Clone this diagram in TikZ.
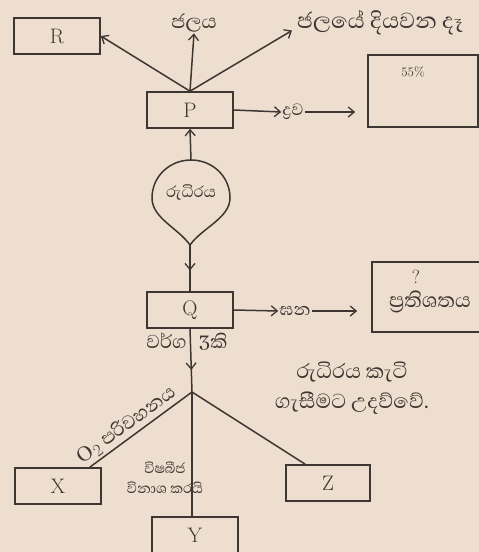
\documentclass[tikz,border=0pt]{standalone}
\usepackage{fontspec}
\newfontfamily\sinhalafont[Script=Sinhala]{Abhaya Libre}
\usetikzlibrary{arrows.meta,decorations.markings}
\definecolor{paper}{RGB}{237,222,207}
\definecolor{ink}{RGB}{62,54,50}
\newcommand{\fsz}[1]{\fontsize{#1}{#1}\selectfont}
\tikzset{
  box/.style={draw=ink,line width=1.6pt,minimum width=86pt,minimum height=36pt,inner sep=0pt,font=\fontsize{21}{24}\selectfont,text=ink},
  lbl/.style={font=\sinhalafont\fsz{17},text=ink,inner sep=1pt},
  conn/.style={draw=ink,line width=1.5pt},
  arr/.style={conn,-{Straight Barb[length=6pt,width=10pt,line width=1.3pt]}},
  midarrow/.style={conn,postaction={decorate,decoration={markings,mark=at position #1 with {\arrow{Straight Barb[length=6pt,width=10pt,line width=1.3pt]}}}}}
}
\begin{document}
\begin{tikzpicture}[x=1pt,y=-1pt]
\fill[paper] (0,0) rectangle (479,552);
\useasboundingbox (0,0) rectangle (479,552);
\clip (0,0) rectangle (479,552);
% boxes
\node[box] (R) at (57,36) {R};
\node[box] (P) at (190,110) {P};
\node[box,minimum width=110pt,minimum height=72pt] (B1) at (423,91) {};
\node[lbl,font=\fsz{13}] (pc) at (413,72) {55\%};
\node[box] (Q) at (190,310) {Q};
\node[box,minimum width=116pt,minimum height=70pt] (B2) at (430,297) {};
\node[lbl,font=\fsz{19}] (qm) at (416,277) {?};
\node[lbl,font=\sinhalafont\fsz{26}] (prat) at (430,302) {ප්^^^^200dරතිශතය};
\node[box] (X) at (58,486) {X};
\node[box,minimum width=84pt] (Z) at (328,483) {Z};
\node[box] (Y) at (195,535) {Y};
% labels
\node[lbl,font=\sinhalafont\fsz{25}] (jal) at (194,23) {ජලය};
\node[lbl,font=\sinhalafont\fsz{28},anchor=west] (diya) at (296,23) {ජලයේ දියවන දෑ};
\node[lbl,font=\sinhalafont\fsz{21}] (drava) at (293,112) {ද්^^^^200dරව};
\node[lbl,font=\sinhalafont\fsz{22}] (ghana) at (295,311) {ඝන};
\node[lbl,font=\sinhalafont\fsz{20}] (blood) at (191,193) {රුධිරය};
\node[lbl,font=\sinhalafont\fsz{24}] (varga) at (187,342) {වර්ග\hspace{12pt}3කි};
\node[lbl,font=\sinhalafont\fsz{18},align=center] (vis) at (165,478) {විෂබීජ\\[2pt]විනාශ කරයි};
\node[lbl,font=\sinhalafont\fsz{26},align=center] (kati) at (352,388) {රුධිරය කැටි\\[4pt]ගැසීමට උදව්වේ.};
% teardrop
\coordinate (tip) at (190,245);
\coordinate (top) at (191,160);
\draw[conn] (tip) .. controls (178,228) and (152,218) .. (152,198)
  .. controls (152,176) and (170,160) .. (top)
  .. controls (212,160) and (230,176) .. (230,198)
  .. controls (230,218) and (202,228) .. (tip) -- cycle;
% connectors
\draw[arr] (top) -- (P.south);
\draw[arr] (P.north) -- (R.east);
\draw[arr] (P.north) -- (jal.south);
\draw[arr] (P.north) -- ([xshift=-4pt,yshift=6pt]diya.south west);
\draw[arr] (P.east) -- (drava.west);
\draw[arr,shorten >=12pt] (drava.east) -- (B1.west |- drava.east);
\draw[arr] (Q.east) -- (ghana.west);
\draw[arr,shorten >=14pt] (ghana.east) -- (B2.west |- ghana.east);
\draw[midarrow=0.55] (tip) -- (Q.north);
\coordinate (J) at (192,392);
\draw[midarrow=0.65] (Q.south) -- (J);
\draw[conn] (J) -- ([xshift=-12pt]X.north east)
  node[lbl,font=\sinhalafont\fsz{24},pos=0.57,sloped,above=1pt] (o2) {O$_2$ පරිවහනය};
\draw[conn] (J) -- ([xshift=20pt]Z.north west);
\draw[conn] (J) -- (J |- Y.north);
\end{tikzpicture}
\end{document}
